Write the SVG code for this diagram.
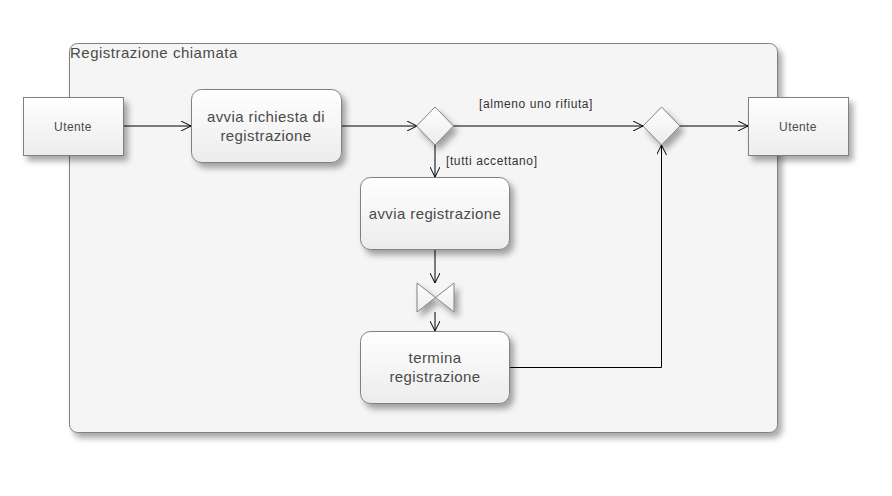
<svg xmlns="http://www.w3.org/2000/svg" width="892" height="496" viewBox="0 0 892 496">
<defs>
<linearGradient id="g" x1="0" y1="0" x2="0" y2="1">
<stop offset="0" stop-color="#ffffff"/>
<stop offset="1" stop-color="#ececec"/>
</linearGradient>
<filter id="sh" x="-20%" y="-20%" width="150%" height="160%">
<feGaussianBlur in="SourceAlpha" stdDeviation="3"/>
<feOffset dx="4" dy="5" result="b"/>
<feComponentTransfer><feFuncA type="linear" slope="0.35"/></feComponentTransfer>
<feMerge><feMergeNode/><feMergeNode in="SourceGraphic"/></feMerge>
</filter>
<marker id="arr" viewBox="0 0 10 10" refX="10" refY="5" markerWidth="10" markerHeight="10" markerUnits="userSpaceOnUse" orient="auto">
<path d="M0,0 L10,5 L0,10" fill="none" stroke="#000" stroke-width="1"/>
</marker>
</defs>
<style>
.n{fill:url(#g);stroke:#808080;stroke-width:1;filter:url(#sh)}
.t{font-family:"Liberation Sans",Arial,sans-serif;fill:#4a4a4a;text-anchor:middle;letter-spacing:0.4px}
.l{font-family:"Liberation Sans",Arial,sans-serif;fill:#333;font-size:12px;letter-spacing:0.6px}
.c{fill:none;stroke:#000;stroke-width:1;marker-end:url(#arr)}
</style>
<rect width="892" height="496" fill="#fff"/>
<g id="container">
<rect x="69.5" y="43.5" width="708" height="389" rx="8" fill="#f5f5f5" stroke="#808080" filter="url(#sh)"/>
<text x="70" y="58" font-family="Liberation Sans,Arial,sans-serif" font-size="15" letter-spacing="0.5" fill="#4a4a4a">Registrazione chiamata</text>
</g>
<g id="connectors">
<path class="c" d="M123,126 H191"/>
<path class="c" d="M341,126 H417"/>
<path class="c" d="M453,126 H643"/>
<path class="c" d="M680,126 H748"/>
<path class="c" d="M435,145 V177"/>
<path class="c" d="M435,250 V283"/>
<path class="c" d="M435,312 V331"/>
<path class="c" d="M509,367.5 H661.5 V145"/>
<text class="l" x="479" y="108">[almeno uno rifiuta]</text>
<text class="l" x="446" y="165">[tutti accettano]</text>
</g>
<g id="utente-in">
<rect class="n" x="23.5" y="97.5" width="100" height="58"/>
<text class="t" x="73" y="131" font-size="12">Utente</text>
</g>
<g id="avvia-richiesta">
<rect class="n" x="191.5" y="89.5" width="150" height="73" rx="10"/>
<text class="t" x="266" y="122" font-size="15">avvia richiesta di</text>
<text class="t" x="266" y="141" font-size="15">registrazione</text>
</g>
<g id="decision1">
<polygon class="n" points="435,107 453.5,126 435,145 416.5,126"/>
</g>
<g id="merge">
<polygon class="n" points="661.5,107 680,126 661.5,145 643,126"/>
</g>
<g id="utente-out">
<rect class="n" x="748.5" y="97.5" width="100" height="58"/>
<text class="t" x="798" y="131" font-size="12">Utente</text>
</g>
<g id="avvia-registrazione">
<rect class="n" x="360.5" y="177.5" width="149" height="72" rx="10"/>
<text class="t" x="435" y="219" font-size="15">avvia registrazione</text>
</g>
<g id="fork">
<polygon class="n" points="417,283 454,312 454,283 417,312"/>
</g>
<g id="termina-registrazione">
<rect class="n" x="360.5" y="331.5" width="149" height="72" rx="10"/>
<text class="t" x="435" y="363" font-size="15">termina</text>
<text class="t" x="435" y="382" font-size="15">registrazione</text>
</g>
</svg>
